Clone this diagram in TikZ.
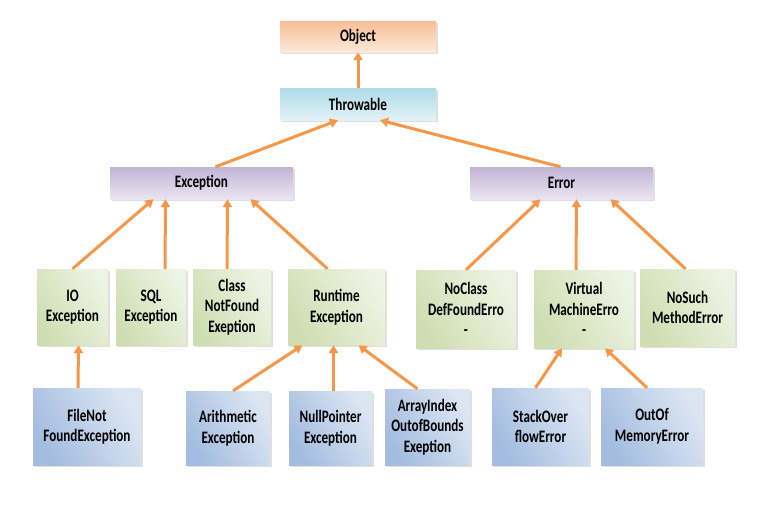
\documentclass[tikz,border=0pt]{standalone}
\usepackage{fontspec}
\setmainfont[FakeStretch=0.75]{Carlito}
\usetikzlibrary{arrows.meta,shadows}
\definecolor{arr}{HTML}{F79646}
\definecolor{objc}{HTML}{F7BE95}
\definecolor{thrc}{HTML}{AEDAE6}
\definecolor{excc}{HTML}{C2B4D6}
\definecolor{grnA}{HTML}{CFDEB2}
\definecolor{grnB}{HTML}{EEF3E3}
\definecolor{bluA}{HTML}{A3BCDF}
\definecolor{bluB}{HTML}{DCE6F3}

\begin{document}
\begin{tikzpicture}[x=1pt,y=-1pt,
    box/.style={inner sep=0pt,align=center,font=\fontsize{17.5}{20.5}\selectfont\bfseries,
        drop shadow={shadow xshift=1.5pt,shadow yshift=-1.5pt,opacity=0.25}},
    topbox/.style={box,top color=#1,bottom color=#1!35!white},
    grn/.style={box,left color=grnA,right color=grnB,shading angle=120},
    blu/.style={box,left color=bluA,right color=bluB,shading angle=120},
    conn/.style={draw=arr,line width=3pt,-{Triangle[length=8pt,width=9pt]}}]
    \useasboundingbox (0,0) rectangle (759,507);
    % top of the tree
    \node[topbox=objc,minimum width=156pt,minimum height=31pt] (obj) at (358,36.5) {Object};
    \node[topbox=thrc,minimum width=156pt,minimum height=32pt] (thr) at (358,104) {Throwable};
    \node[topbox=excc,minimum width=183pt,minimum height=32pt] (exc) at (201.5,183) {Exception};
    \node[topbox=excc,minimum width=183pt,minimum height=32pt] (err) at (561.5,183) {Error};
    % third row
    \node[grn,minimum width=71pt,minimum height=76pt] (io) at (72.5,307) {IO\\Exception};
    \node[grn,minimum width=70pt,minimum height=76pt] (sql) at (151,307) {SQL\\Exception};
    \node[grn,minimum width=78pt,minimum height=76pt] (cnf) at (232,307) {Class\\NotFound\\Exeption};
    \node[grn,minimum width=97pt,minimum height=76pt] (rt) at (336.5,307) {Runtime\\Exception};
    \node[grn,minimum width=100pt,minimum height=78pt] (ncd) at (466,309) {NoClass\\DefFoundErro\\-};
    \node[grn,minimum width=100pt,minimum height=78pt] (vme) at (584,309) {Virtual\\MachineErro\\-};
    \node[grn,minimum width=95pt,minimum height=77pt] (nsm) at (687.5,307.5) {NoSuch\\MethodError};
    % bottom row
    \node[blu,minimum width=108pt,minimum height=77pt] (fnf) at (87,426.5) {FileNot\\FoundException};
    \node[blu,minimum width=84pt,minimum height=74pt] (ari) at (228,428) {Arithmetic\\Exception};
    \node[blu,minimum width=83pt,minimum height=74pt] (npe) at (330.5,428) {NullPointer\\Exception};
    \node[blu,minimum width=85pt,minimum height=76pt] (aio) at (427.5,427) {ArrayIndex\\OutofBounds\\Exeption};
    \node[blu,minimum width=97pt,minimum height=77pt] (soe) at (540.5,426.5) {StackOver\\flowError};
    \node[blu,minimum width=102pt,minimum height=77pt] (oom) at (652,426.5) {OutOf\\MemoryError};
    % arrows
    \draw[conn] (thr.north) -- (obj.south);
    \draw[conn] ([xshift=14pt]exc.north) -- ([xshift=-20pt]thr.south);
    \draw[conn] ([xshift=-1pt]err.north) -- ([xshift=22pt]thr.south);
    \draw[conn] (io.north) -- ([xshift=-48pt]exc.south);
    \draw[conn] ([xshift=14pt]sql.north) -- ([xshift=-36pt]exc.south);
    \draw[conn] ([xshift=-5pt]cnf.north) -- ([xshift=26pt]exc.south);
    \draw[conn] ([xshift=-9pt]rt.north) -- ([xshift=49pt]exc.south);
    \draw[conn] (ncd.north) -- ([xshift=-21pt]err.south);
    \draw[conn] ([xshift=-8pt]vme.north) -- ([xshift=15pt]err.south);
    \draw[conn] ([xshift=-2pt]nsm.north) -- ([xshift=49pt]err.south);
    \draw[conn] ([xshift=-9pt]fnf.north) -- ([xshift=6pt]io.south);
    \draw[conn] ([xshift=5pt]ari.north) -- ([xshift=-34pt]rt.south);
    \draw[conn] ([xshift=3pt]npe.north) -- ([xshift=-3pt]rt.south);
    \draw[conn] ([xshift=-10pt]aio.north) -- ([xshift=22pt]rt.south);
    \draw[conn] ([xshift=-5pt]soe.north) -- ([xshift=-22pt]vme.south);
    \draw[conn] ([xshift=-5pt]oom.north) -- ([xshift=21pt]vme.south);
\end{tikzpicture}
\end{document}
